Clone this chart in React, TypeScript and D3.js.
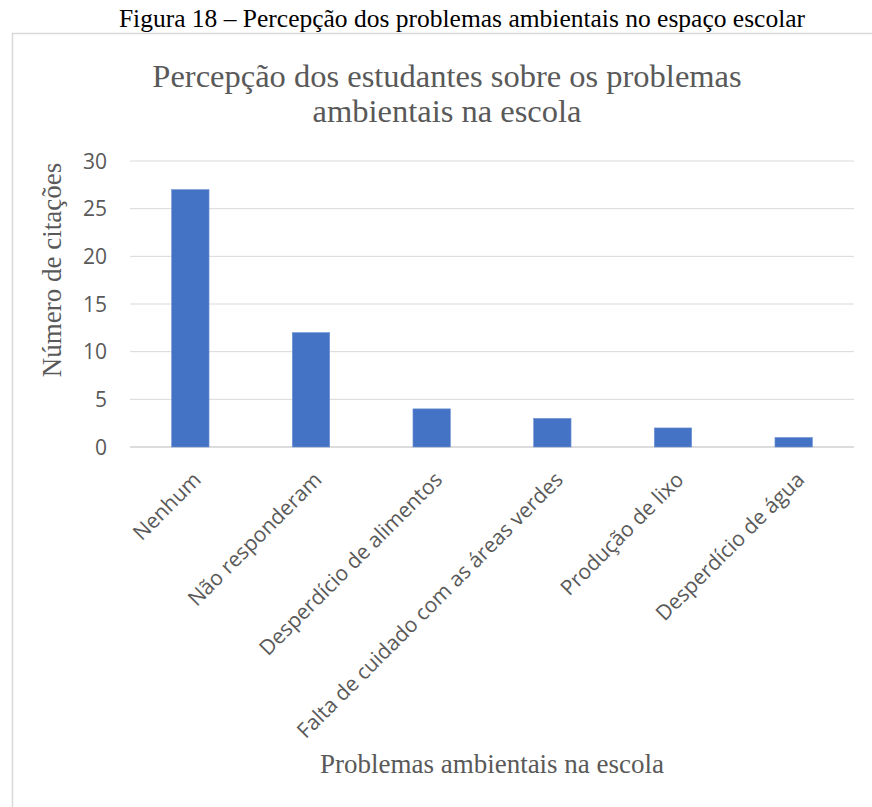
import React from "react";
import * as d3 from "d3";

const categories = [
  "Nenhum",
  "Não responderam",
  "Desperdício de alimentos",
  "Falta de cuidado com as áreas verdes",
  "Produção de lixo",
  "Desperdício de água",
];
const citations = [27, 12, 4, 3, 2, 1];
const yTicks = [0, 5, 10, 15, 20, 25, 30];

const W = 872;
const H = 807;
const plot = { left: 130, right: 854, top: 161, bottom: 447 };

export default function App() {
  const x = d3
    .scaleBand<string>()
    .domain(categories)
    .range([plot.left, plot.right])
    .paddingInner(0.69)
    .paddingOuter(0.345);
  const y = d3.scaleLinear().domain([0, 30]).range([plot.bottom, plot.top]);
  const band = d3.scaleBand<string>().domain(categories).range([plot.left, plot.right]);

  const sans = "'Open Sans', sans-serif";
  const serif = "'Liberation Serif', 'Times New Roman', serif";

  return (
    <svg
      width={W}
      height={H}
      style={{ position: "absolute", left: 0, top: 0, background: "#fff" }}
    >
      <text x={462} y={27} textAnchor="middle" fontFamily={serif} fontSize={25.5} fill="#000">
        Figura 18 – Percepção dos problemas ambientais no espaço escolar
      </text>
      <path d={`M12.5,${H} V33.5 H${W}`} fill="none" stroke="#d9d9d9" strokeWidth={1.5} />

      <text textAnchor="middle" fontFamily={serif} fontSize={32.5} fill="#595959">
        <tspan x={447} y={87}>Percepção dos estudantes sobre os problemas</tspan>
        <tspan x={447} y={122}>ambientais na escola</tspan>
      </text>

      {yTicks.map((t) => (
        <g key={t}>
          <line
            x1={plot.left}
            x2={plot.right}
            y1={y(t)}
            y2={y(t)}
            stroke={t === 0 ? "#d0d0d0" : "#d9d9d9"}
            strokeWidth={t === 0 ? 1.5 : 1}
          />
          <text
            x={107}
            y={y(t)}
            dy="0.36em"
            textAnchor="end"
            fontFamily={sans}
            fontSize={21}
            fill="#595959"
          >
            {t}
          </text>
        </g>
      ))}

      {categories.map((c, i) => (
        <rect
          key={c}
          x={x(c)}
          y={y(citations[i])}
          width={x.bandwidth()}
          height={y(0) - y(citations[i])}
          fill="#4472c4"
          stroke="#6f93d3"
          strokeWidth={0.6}
        />
      ))}

      {categories.map((c) => {
        const cx = (band(c) as number) + band.bandwidth() / 2 + 12;
        const cy = plot.bottom + 34;
        return (
          <text
            key={c}
            transform={`translate(${cx},${cy}) rotate(-45)`}
            textAnchor="end"
            fontFamily={sans}
            fontSize={21}
            fill="#595959"
          >
            {c}
          </text>
        );
      })}

      <text
        transform="translate(61,270) rotate(-90)"
        textAnchor="middle"
        fontFamily={serif}
        fontSize={27}
        fill="#595959"
      >
        Número de citações
      </text>

      <text x={492} y={773} textAnchor="middle" fontFamily={serif} fontSize={27} fill="#595959">
        Problemas ambientais na escola
      </text>
    </svg>
  );
}
